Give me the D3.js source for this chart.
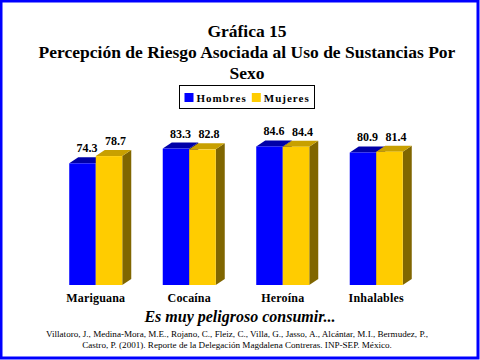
<!DOCTYPE html>
<html lang="es">
<head>
  <meta charset="UTF-8" />
  <title>Gráfica 15</title>
  <script src="https://d3js.org/d3.v7.min.js"></script>
  <style>
    body { margin: 0; background: #fff; }
    svg { display: block; font-family: "Liberation Serif", "Times New Roman", serif; }
  </style>
</head>
<body>
  <svg width="480" height="360"></svg>
  <script>
    const categories = ["Mariguana", "Cocaína", "Heroína", "Inhalables"];
    const series = ["Hombres", "Mujeres"];
    const hombres = [74.3, 83.3, 84.6, 80.9];
    const mujeres = [78.7, 82.8, 84.4, 81.4];

    const colors = {
      "Hombres": { front: "#0000ff", top: "#0000a8", side: "#00007a" },
      "Mujeres": { front: "#ffcc00", top: "#c8a000", side: "#806600" }
    };

    const svg = d3.select("svg"), width = 480, height = 360;

    // frame
    svg.append("rect")
      .attr("x", 1).attr("y", 1)
      .attr("width", width - 3).attr("height", height - 3)
      .attr("fill", "#fff")
      .attr("stroke", "#0000ff")
      .attr("stroke-width", 3);

    // title
    const title = ["Gráfica 15", "Percepción de Riesgo Asociada al Uso de Sustancias Por", "Sexo"];
    svg.append("g").selectAll("text")
      .data(title)
      .join("text")
      .attr("x", 247)
      .attr("y", (d, i) => 37 + i * 20.8)
      .attr("text-anchor", "middle")
      .attr("font-size", 17.5)
      .attr("font-weight", "bold")
      .text(d => d);

    // legend
    const legend = svg.append("g");
    legend.append("rect")
      .attr("x", 179.5).attr("y", 85.5)
      .attr("width", 135).attr("height", 23)
      .attr("fill", "#fff").attr("stroke", "#000");
    const legX = [184.5, 251.8];
    series.forEach((s, i) => {
      legend.append("rect")
        .attr("x", legX[i]).attr("y", 93)
        .attr("width", 9).attr("height", 9)
        .attr("fill", colors[s].front);
      legend.append("text")
        .attr("x", legX[i] + 12).attr("y", 102)
        .attr("font-size", 11)
        .attr("font-weight", "bold")
        .attr("letter-spacing", 1)
        .text(s);
    });

    // scales
    const x0 = d3.scaleBand()
      .domain(categories)
      .range([49, 423])
      .paddingInner(0.433)
      .paddingOuter(0.2165);
    const x1 = d3.scaleBand()
      .domain(series)
      .range([0, x0.bandwidth()]);
    const y = d3.scaleLinear().domain([0, 100]).range([285, 121.2]);

    const dx = 9, dy = 6;
    const data = categories.map((c, i) => ({ cat: c, vals: [hombres[i], mujeres[i]] }));

    const bars = svg.append("g");
    data.forEach(d => {
      series.forEach((s, j) => {
        const v = d.vals[j];
        const x = x0(d.cat) + x1(s), w = x1.bandwidth();
        const yt = y(v), yb = y(0);
        const g = bars.append("g");
        g.append("polygon")
          .attr("points", [[x + w, yt], [x + w + dx, yt - dy], [x + w + dx, yb - dy], [x + w, yb]].join(" "))
          .attr("fill", colors[s].side);
        g.append("polygon")
          .attr("points", [[x, yt], [x + dx, yt - dy], [x + w + dx, yt - dy], [x + w, yt]].join(" "))
          .attr("fill", colors[s].top);
        g.append("rect")
          .attr("x", x).attr("y", yt)
          .attr("width", w).attr("height", yb - yt)
          .attr("fill", colors[s].front);
        svg.append("text")
          .attr("x", x + w / 2 + dx / 2 + j * 2)
          .attr("y", yt - dy - 5)
          .attr("text-anchor", "middle")
          .attr("font-size", 12)
          .attr("font-weight", "bold")
          .text(v.toFixed(1));
      });
    });

    // category labels
    svg.append("g").selectAll("text")
      .data(categories)
      .join("text")
      .attr("x", d => x0(d) + x0.bandwidth() / 2)
      .attr("y", 302)
      .attr("text-anchor", "middle")
      .attr("font-size", 12)
      .attr("font-weight", "bold")
      .attr("letter-spacing", 0.2)
      .text(d => d);

    svg.append("text")
      .attr("x", 240).attr("y", 322)
      .attr("text-anchor", "middle")
      .attr("font-size", 16)
      .attr("font-weight", "bold")
      .attr("font-style", "italic")
      .text("Es muy peligroso consumir...");

    const cite = [
      "Villatoro, J., Medina-Mora, M.E., Rojano, C., Fleiz, C., Villa, G., Jasso, A., Alcántar, M.I., Bermudez, P.,",
      "Castro, P. (2001). Reporte de la Delegación Magdalena Contreras. INP-SEP. México."
    ];
    svg.append("g").selectAll("text")
      .data(cite)
      .join("text")
      .attr("x", 237)
      .attr("y", (d, i) => 336.5 + i * 11.8)
      .attr("text-anchor", "middle")
      .attr("font-size", 9.1)
      .text(d => d);
  </script>
</body>
</html>
